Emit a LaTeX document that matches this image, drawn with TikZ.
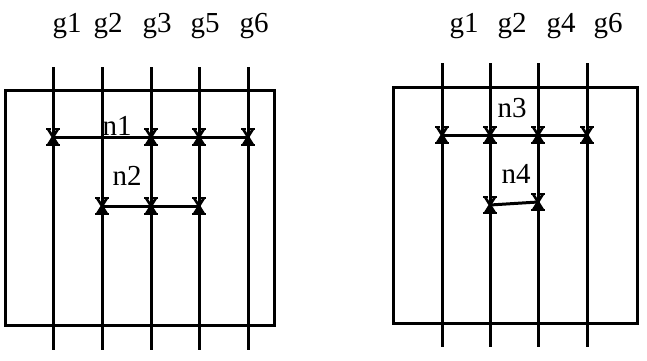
\documentclass[tikz,border=0pt]{standalone}
\usepackage{fontspec}
\setmainfont{Liberation Serif}
\begin{document}
\begin{tikzpicture}[x=1pt,y=-1pt,
  wire/.style={line width=3pt},
  frame/.style={line width=3pt},
  lbl/.style={anchor=base,inner sep=0pt,font=\fontsize{29}{29}\selectfont},
  xmark/.pic={\draw[line width=2.6pt] (-5,-8)--(5,8) (5,-8)--(-5,8);
              \draw[line width=2pt] (-7,-8)--(-2,-8) (2,-8)--(7,-8) (-7,8)--(7,8);
              \fill (-5,8)--(5,8)--(0,1)--cycle;}]
\useasboundingbox (0,0) rectangle (647,360);
% ---------- left block ----------
\draw[frame] (5,90) rectangle (274,325);
\foreach \n/\x in {1/53,2/102,3/151,5/199,6/248}{
  \coordinate (Lt\n) at (\x,67);
  \coordinate (Lb\n) at (\x,350);
  \draw[wire] (Lt\n) -- (Lb\n);
}
\node[lbl] (lg1) at (67,32) {g1};
\node[lbl] (lg2) at (108,32) {g2};
\node[lbl] (lg3) at (157,32) {g3};
\node[lbl] (lg5) at (205,32) {g5};
\node[lbl] (lg6) at (254,32) {g6};
% net n1
\coordinate (a1) at (53,137);
\coordinate (a3) at (151,137);
\coordinate (a5) at (199,137);
\coordinate (a6) at (248,137);
\draw[wire] (a1) -- (a3) -- (a5) -- (a6);
\foreach \c in {a1,a3,a5,a6} \pic at (\c) {xmark};
\node[lbl] (n1) at (117,135) {n1};
% net n2
\coordinate (b2) at (102,206);
\coordinate (b3) at (151,206);
\coordinate (b5) at (199,206);
\draw[wire] (b2) -- (b3) -- (b5);
\foreach \c in {b2,b3,b5} \pic at (\c) {xmark};
\node[lbl] (n2) at (127,185) {n2};
% ---------- right block ----------
\draw[frame] (393,87) rectangle (637,323);
\foreach \n/\x in {1/442,2/490,4/538,6/587}{
  \coordinate (Rt\n) at (\x,63);
  \coordinate (Rb\n) at (\x,347);
  \draw[wire] (Rt\n) -- (Rb\n);
}
\node[lbl] (rg1) at (464,32) {g1};
\node[lbl] (rg2) at (512,32) {g2};
\node[lbl] (rg4) at (561,32) {g4};
\node[lbl] (rg6) at (608,32) {g6};
% net n3
\coordinate (c1) at (442,135);
\coordinate (c2) at (490,135);
\coordinate (c4) at (538,135);
\coordinate (c6) at (587,135);
\draw[wire] (c1) -- (c2) -- (c4) -- (c6);
\foreach \c in {c1,c2,c4,c6} \pic at (\c) {xmark};
\node[lbl] (n3) at (512,117) {n3};
% net n4
\coordinate (d2) at (490,205);
\coordinate (d4) at (538,202);
\draw[wire] (d2) -- (d4);
\foreach \c in {d2,d4} \pic at (\c) {xmark};
\node[lbl] (n4) at (516,183) {n4};
\end{tikzpicture}
\end{document}
